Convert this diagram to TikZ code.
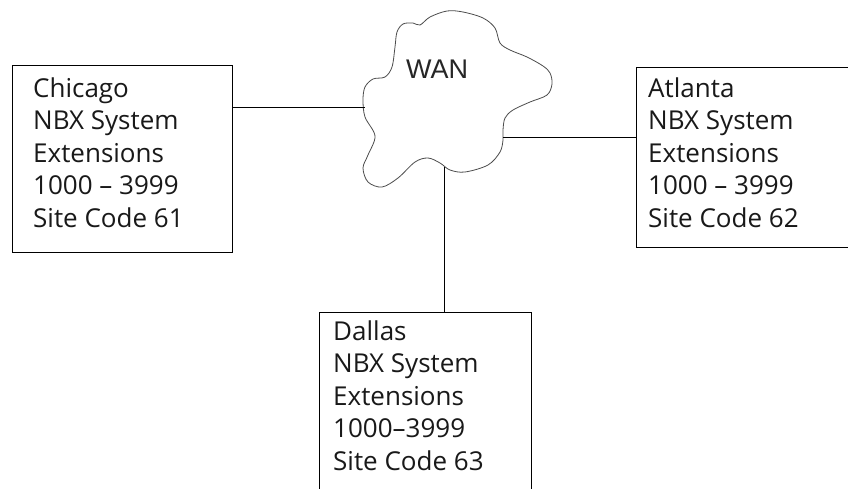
\documentclass[tikz,border=0pt]{standalone}
\usepackage{fontspec}
\setmainfont{Open Sans}
\newfontfamily\wanfont{Liberation Sans}
\usetikzlibrary{calc}
\tikzset{
  sitebox/.style={draw=black, line width=1.1pt, inner sep=0pt, anchor=north west},
  sitetxt/.style={inner sep=0pt, anchor=base west, align=left,
    font=\fontsize{26pt}{32.5pt}\selectfont, text=black!90},
  link/.style={draw=black, line width=1pt},
  cloudline/.style={draw=black!70, line width=0.8pt}
}
\begin{document}
\begin{tikzpicture}[x=1pt,y=-1pt]
\useasboundingbox (0,0) rectangle (848,488);
\clip (0,0) rectangle (848,488);
\fill[white] (0,0) rectangle (848,488);
% cloud
\draw[cloudline] plot[smooth cycle, tension=0.55] coordinates {
(420,25) (430,17) (447,11) (463,12) (483,18) (495,28) (500,43) (510,50)
(527,57) (543,66) (550,73) (552,84) (547,95) (530,102) (513,110) (505,118)
(503,130) (503,140) (500,152) (488,165) (465,172) (450,170) (440,163)
(428,158) (415,162) (398,178) (382,187) (368,182) (363,168) (368,155)
(375,136) (365,117) (363,100) (365,87) (373,79) (385,77) (392,67) (395,47)
(397,32) (403,24) (413,23)};
\node[inner sep=0pt, anchor=base west, font=\wanfont\fontsize{27pt}{30pt}\selectfont, text=black!85] (wan) at (406,78) {WAN};
\coordinate (wanW) at (365,107);
\coordinate (wanE) at (503,137);
\coordinate (wanS) at (444,167);
% boxes
\node[sitebox, minimum width=220pt, minimum height=187pt,
  label={[sitetxt, xshift=21pt, yshift=-162pt]north west:{Chicago\\NBX System\\Extensions\\1000 – 3999\\Site Code 61}}]
  (chi) at (12,65) {};
\node[sitebox, minimum width=260pt, minimum height=180pt,
  label={[sitetxt, xshift=12pt, yshift=-160pt]north west:{Atlanta\\NBX System\\Extensions\\1000 – 3999\\Site Code 62}}]
  (atl) at (636,67) {};
\node[sitebox, minimum width=212pt, minimum height=220pt,
  label={[sitetxt, xshift=14pt, yshift=-158pt]north west:{Dallas\\NBX System\\Extensions\\1000–3999\\Site Code 63}}]
  (dal) at (319,312) {};
% links
\draw[link] (chi.east |- wanW) -- (wanW);
\draw[link] (wanE) -- (atl.west |- wanE);
\draw[link] (wanS) -- (wanS |- dal.north);
\end{tikzpicture}
\end{document}
